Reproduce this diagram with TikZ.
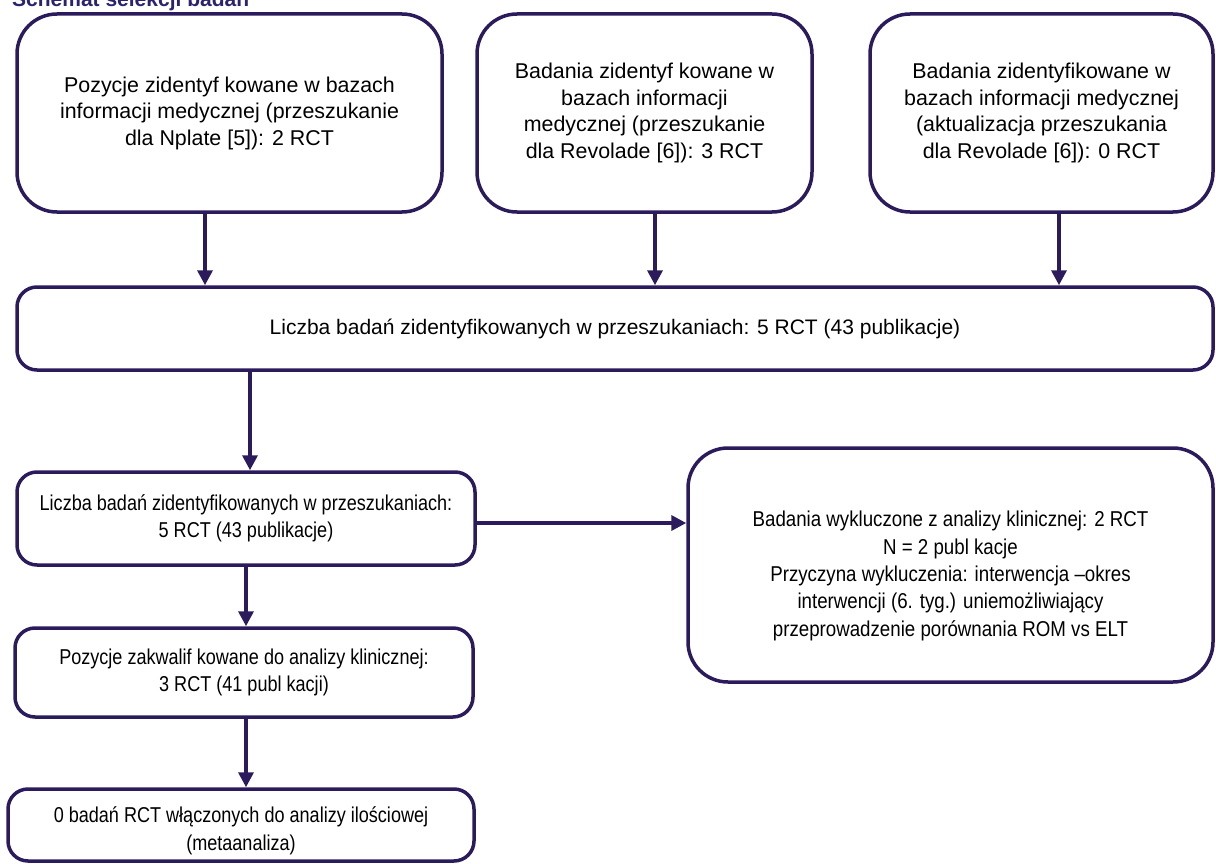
\documentclass[tikz,border=0pt]{standalone}
\usepackage{fontspec}
\setmainfont{Liberation Sans}
\newfontfamily\narrowA[FakeStretch=0.84]{Liberation Sans}
\newfontfamily\narrowB[FakeStretch=0.87]{Liberation Sans}
\usetikzlibrary{arrows.meta}
\definecolor{frame}{HTML}{2B1B5C}
\definecolor{titleblue}{HTML}{2A2470}
\tikzset{
  box/.style={draw=frame, line width=3.5pt, align=center, inner sep=0pt, text=black},
  topfont/.style={font=\fontsize{21.4}{26.5}\selectfont},
  lowfont/.style={font=\narrowA\fontsize{21.5}{27.5}\selectfont},
  exfont/.style={font=\narrowB\fontsize{21.5}{27.3}\selectfont},
  bigr/.style={rounded corners=40pt},
  smallr/.style={rounded corners=20pt},
  arr/.style={draw=frame, line width=3.5pt, -{Triangle[width=15pt,length=15pt]}},
}
\begin{document}
\begin{tikzpicture}[x=1pt,y=-1pt]
\useasboundingbox (0,0) rectangle (1216,864);
\node[anchor=base west, inner sep=0pt, text=titleblue, font=\fontsize{21}{24}\selectfont\bfseries] (title) at (12,7) {Schemat selekcji badań};
\node[box,bigr,topfont,minimum width=425pt,minimum height=198pt] (b1) at (229.5,113)
  {Pozycje zidentyf kowane w bazach\\informacji medycznej (przeszukanie\\dla Nplate [5]): 2 RCT};
\node[box,bigr,topfont,minimum width=335pt,minimum height=198pt] (b2) at (644.5,113)
  {Badania zidentyf kowane w\\bazach informacji\\medycznej (przeszukanie\\dla Revolade [6]): 3 RCT};
\node[box,bigr,topfont,minimum width=343pt,minimum height=198pt] (b3) at (1041.5,113)
  {Badania zidentyfikowane w\\bazach informacji medycznej\\(aktualizacja przeszukania\\dla Revolade [6]): 0 RCT};
\node[box,smallr,font=\fontsize{21}{26}\selectfont,minimum width=1196pt,minimum height=83pt] (b4) at (615,328.5)
  {Liczba badań zidentyfikowanych w przeszukaniach: 5 RCT (43 publikacje)};
\node[box,smallr,lowfont,minimum width=458pt,minimum height=93pt] (b5) at (246,518.5)
  {Liczba badań zidentyfikowanych w przeszukaniach:\\5 RCT (43 publikacje)};
\node[box,bigr,minimum width=525pt,minimum height=234pt] (b6) at (950.5,565) {};
\node[align=center, exfont] (t6) at (950.5,576)
  {Badania wykluczone z analizy klinicznej: 2 RCT\\N = 2 publ kacje\\Przyczyna wykluczenia: interwencja –okres\\interwencji (6. tyg.) uniemożliwiający\\przeprowadzenie porównania ROM vs ELT};
\node[box,smallr,lowfont,minimum width=458pt,minimum height=89pt] (b7) at (244,672.5)
  {Pozycje zakwalif kowane do analizy klinicznej:\\3 RCT (41 publ kacji)};
\node[box,smallr,minimum width=466pt,minimum height=72pt] (b8) at (241,825) {};
\node[align=center, lowfont] (t8) at (241,831)
  {0 badań RCT włączonych do analizy ilościowej\\(metaanaliza)};
\coordinate (x1) at (205,0);
\coordinate (x2) at (655,0);
\coordinate (x3) at (1059,0);
\coordinate (x4) at (250,0);
\coordinate (x5) at (246,0);
\coordinate (y6) at (0,523);
\draw[arr] (b1.south -| x1) -- (b4.north -| x1);
\draw[arr] (b2.south -| x2) -- (b4.north -| x2);
\draw[arr] (b3.south -| x3) -- (b4.north -| x3);
\draw[arr] (b4.south -| x4) -- (b5.north -| x4);
\draw[arr] (b5.east |- y6) -- (b6.west |- y6);
\draw[arr] (b5.south -| x5) -- (b7.north -| x5);
\draw[arr] (b7.south -| x5) -- (b8.north -| x5);
\end{tikzpicture}
\end{document}
